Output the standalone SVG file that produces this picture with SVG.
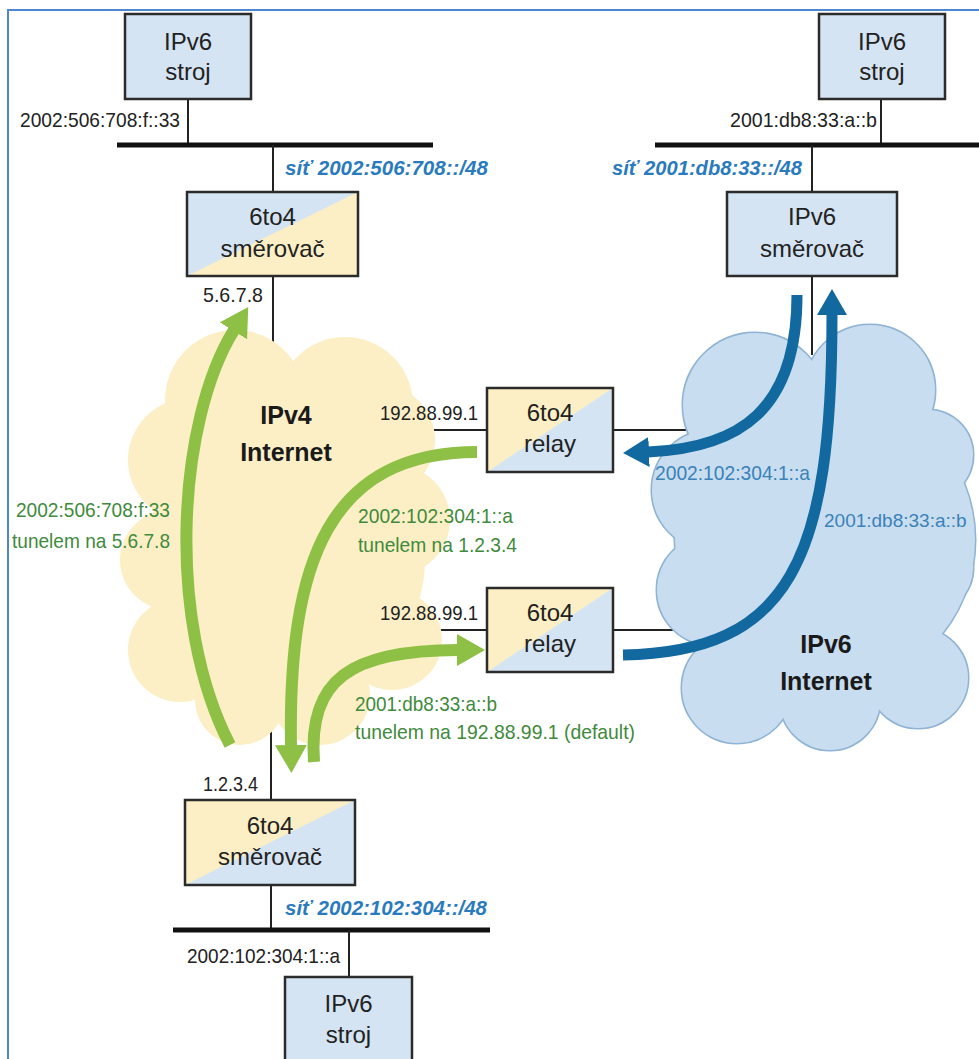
<svg xmlns="http://www.w3.org/2000/svg" width="979" height="1059" viewBox="0 0 979 1059">
<defs>
<style>
.box{stroke:#2b2b2b;stroke-width:2.5;fill:none}
.fb{fill:#d5e4f2}
.fy{fill:#fcefc5}
.nt{font-family:"Liberation Sans",Arial,sans-serif;font-size:24px;fill:#222;text-anchor:middle}
.ct{font-family:"Liberation Sans",Arial,sans-serif;font-size:25px;font-weight:bold;fill:#1a1a1a;text-anchor:middle}
.lb{font-family:"Liberation Sans",Arial,sans-serif;font-size:21px;fill:#222}
.lg{font-family:"Liberation Sans",Arial,sans-serif;font-size:21px;fill:#3f8a3c}
.lbl{font-family:"Liberation Sans",Arial,sans-serif;font-size:21px;fill:#3a82b8}
.net{font-family:"Liberation Sans",Arial,sans-serif;font-size:21px;font-weight:bold;font-style:italic;fill:#2a7bbd}
.ln{stroke:#222;stroke-width:2;fill:none}
.bus{stroke:#111;stroke-width:5;fill:none}
.ga{stroke:#8dc044;stroke-width:12;fill:none}
.ba{stroke:#11699f;stroke-width:11;fill:none}
.yc{fill:#fcefc5}
.bcs{fill:#c8ddef;stroke:#8fb3d4;stroke-width:3}
.bcf{fill:#c8ddef}
</style>
<marker id="hg" viewBox="0 0 28 32" refX="1" refY="16" markerWidth="28" markerHeight="32" orient="auto" markerUnits="userSpaceOnUse">
<path d="M0,0 L28,16 L0,32 Z" fill="#8dc044"/>
</marker>
<marker id="hb" viewBox="0 0 26 30" refX="1" refY="15" markerWidth="26" markerHeight="30" orient="auto" markerUnits="userSpaceOnUse">
<path d="M0,0 L26,15 L0,30 Z" fill="#11699f"/>
</marker>
</defs>

<rect x="8" y="10" width="1000" height="1100" fill="#fff" stroke="#4f86d0" stroke-width="2"/>

<g id="connectors">
<line class="ln" x1="188" y1="99" x2="188" y2="145"/>
<line class="bus" x1="117" y1="145" x2="433" y2="145"/>
<line class="ln" x1="273" y1="145" x2="273" y2="192"/>
<line class="ln" x1="273" y1="276" x2="273" y2="345"/>
<line class="ln" x1="881" y1="99" x2="881" y2="145"/>
<line class="bus" x1="655" y1="145" x2="979" y2="145"/>
<line class="ln" x1="812" y1="145" x2="812" y2="192"/>
<line class="ln" x1="812" y1="276" x2="812" y2="355"/>
<line class="ln" x1="430" y1="430" x2="487" y2="430"/>
<line class="ln" x1="613" y1="430" x2="690" y2="430"/>
<line class="ln" x1="425" y1="630" x2="487" y2="630"/>
<line class="ln" x1="613" y1="630" x2="690" y2="630"/>
<line class="ln" x1="271" y1="730" x2="271" y2="800"/>
<line class="ln" x1="271" y1="885" x2="271" y2="930"/>
<line class="bus" x1="173" y1="930" x2="490" y2="930"/>
<line class="ln" x1="349" y1="930" x2="349" y2="977"/>
</g>

<g id="ipv4-cloud">
<circle class="yc" cx="235" cy="400" r="70"/>
<circle class="yc" cx="345" cy="405" r="68"/>
<circle class="yc" cx="190" cy="460" r="62"/>
<circle class="yc" cx="170" cy="560" r="50"/>
<circle class="yc" cx="180" cy="650" r="52"/>
<circle class="yc" cx="240" cy="700" r="45"/>
<circle class="yc" cx="320" cy="695" r="50"/>
<circle class="yc" cx="392" cy="640" r="50"/>
<circle class="yc" cx="395" cy="520" r="55"/>
<circle class="yc" cx="380" cy="440" r="55"/>
<circle class="yc" cx="285" cy="560" r="140"/>
<text class="ct" x="286" y="424">IPv4</text>
<text class="ct" x="286" y="461">Internet</text>
</g>

<g id="ipv6-cloud">
<g>
<circle class="bcs" cx="755" cy="405" r="72"/>
<circle class="bcs" cx="870" cy="390" r="65"/>
<circle class="bcs" cx="928" cy="455" r="45"/>
<circle class="bcs" cx="712" cy="490" r="60"/>
<circle class="bcs" cx="712" cy="590" r="55"/>
<circle class="bcs" cx="737" cy="688" r="55"/>
<circle class="bcs" cx="830" cy="700" r="50"/>
<circle class="bcs" cx="918" cy="678" r="50"/>
<circle class="bcs" cx="928" cy="568" r="45"/>
<circle class="bcs" cx="825" cy="540" r="150"/>
</g>
<g>
<circle class="bcf" cx="755" cy="405" r="72"/>
<circle class="bcf" cx="870" cy="390" r="65"/>
<circle class="bcf" cx="928" cy="455" r="45"/>
<circle class="bcf" cx="712" cy="490" r="60"/>
<circle class="bcf" cx="712" cy="590" r="55"/>
<circle class="bcf" cx="737" cy="688" r="55"/>
<circle class="bcf" cx="830" cy="700" r="50"/>
<circle class="bcf" cx="918" cy="678" r="50"/>
<circle class="bcf" cx="928" cy="568" r="45"/>
<circle class="bcf" cx="825" cy="540" r="150"/>
</g>
<text class="ct" x="826" y="653">IPv6</text>
<text class="ct" x="826" y="690">Internet</text>
</g>

<g id="host-top-left">
<rect class="fb" x="125" y="14" width="126" height="85"/>
<rect class="box" x="125" y="14" width="126" height="85"/>
<text class="nt" x="188" y="50">IPv6</text>
<text class="nt" x="188" y="80">stroj</text>
</g>

<g id="router-top-left">
<rect class="fb" x="187" y="192" width="171" height="84"/>
<polygon class="fy" points="358,192 358,276 187,276"/>
<rect class="box" x="187" y="192" width="171" height="84"/>
<text class="nt" x="272.5" y="225">6to4</text>
<text class="nt" x="272.5" y="257">směrovač</text>
</g>

<g id="host-top-right">
<rect class="fb" x="819" y="14" width="126" height="85"/>
<rect class="box" x="819" y="14" width="126" height="85"/>
<text class="nt" x="882" y="50">IPv6</text>
<text class="nt" x="882" y="80">stroj</text>
</g>

<g id="router-ipv6">
<rect class="fb" x="727" y="192" width="170" height="84"/>
<rect class="box" x="727" y="192" width="170" height="84"/>
<text class="nt" x="812" y="225">IPv6</text>
<text class="nt" x="812" y="257">směrovač</text>
</g>

<g id="relay-top">
<rect class="fb" x="487" y="388" width="126" height="84"/>
<polygon class="fy" points="487,388 613,388 487,472"/>
<rect class="box" x="487" y="388" width="126" height="84"/>
<text class="nt" x="550" y="421">6to4</text>
<text class="nt" x="550" y="452">relay</text>
</g>

<g id="relay-bottom">
<rect class="fb" x="487" y="588" width="126" height="84"/>
<polygon class="fy" points="487,588 613,588 487,672"/>
<rect class="box" x="487" y="588" width="126" height="84"/>
<text class="nt" x="550" y="621">6to4</text>
<text class="nt" x="550" y="652">relay</text>
</g>

<g id="router-bottom">
<rect class="fb" x="185" y="800" width="170" height="85"/>
<polygon class="fy" points="185,800 355,800 185,885"/>
<rect class="box" x="185" y="800" width="170" height="85"/>
<text class="nt" x="270" y="834">6to4</text>
<text class="nt" x="270" y="865">směrovač</text>
</g>

<g id="host-bottom">
<rect class="fb" x="285" y="977" width="127" height="90"/>
<rect class="box" x="285" y="977" width="127" height="90"/>
<text class="nt" x="348.5" y="1012">IPv6</text>
<text class="nt" x="348.5" y="1043">stroj</text>
</g>

<g id="arrows">
<path class="ga" d="M230,745 C165,620 178,420 234,330" marker-end="url(#hg)"/>
<path class="ga" d="M477,452 C330,452 288,560 291,746" marker-end="url(#hg)"/>
<path class="ga" d="M314,762 C308,680 350,650 458,650" marker-end="url(#hg)"/>
<path class="ba" d="M797,295 C797,410 740,448 648,452" marker-end="url(#hb)"/>
<path class="ba" d="M623,655 C790,652 832,560 832,314" marker-end="url(#hb)"/>
</g>

<g id="labels">
<text class="lb" x="20" y="127" textLength="160" lengthAdjust="spacingAndGlyphs">2002:506:708:f::33</text>
<text class="net" x="285" y="175" textLength="203" lengthAdjust="spacingAndGlyphs">síť 2002:506:708::/48</text>
<text class="lb" x="730" y="127" textLength="147" lengthAdjust="spacingAndGlyphs">2001:db8:33:a::b</text>
<text class="net" x="612" y="175" textLength="190" lengthAdjust="spacingAndGlyphs">síť 2001:db8:33::/48</text>
<text class="lb" x="203" y="302" textLength="60" lengthAdjust="spacingAndGlyphs">5.6.7.8</text>
<text class="lb" x="380" y="420" textLength="98" lengthAdjust="spacingAndGlyphs">192.88.99.1</text>
<text class="lb" x="380" y="620" textLength="98" lengthAdjust="spacingAndGlyphs">192.88.99.1</text>
<text class="lb" x="203" y="791" textLength="55" lengthAdjust="spacingAndGlyphs">1.2.3.4</text>
<text class="net" x="285" y="915" textLength="202" lengthAdjust="spacingAndGlyphs">síť 2002:102:304::/48</text>
<text class="lb" x="187" y="963" textLength="153" lengthAdjust="spacingAndGlyphs">2002:102:304:1::a</text>
<text class="lg" x="16" y="517" textLength="154" lengthAdjust="spacingAndGlyphs">2002:506:708:f:33</text>
<text class="lg" x="12" y="548" textLength="158" lengthAdjust="spacingAndGlyphs">tunelem na 5.6.7.8</text>
<text class="lg" x="358" y="523" textLength="155" lengthAdjust="spacingAndGlyphs">2002:102:304:1::a</text>
<text class="lg" x="358" y="552" textLength="159" lengthAdjust="spacingAndGlyphs">tunelem na 1.2.3.4</text>
<text class="lg" x="355" y="711" textLength="142" lengthAdjust="spacingAndGlyphs">2001:db8:33:a::b</text>
<text class="lg" x="355" y="739" textLength="280" lengthAdjust="spacingAndGlyphs">tunelem na 192.88.99.1 (default)</text>
<text class="lbl" x="655" y="480" textLength="155" lengthAdjust="spacingAndGlyphs">2002:102:304:1::a</text>
<text class="lbl" x="824" y="527" style="font-size:19px">2001:db8:33:a::b</text>
</g>
</svg>
